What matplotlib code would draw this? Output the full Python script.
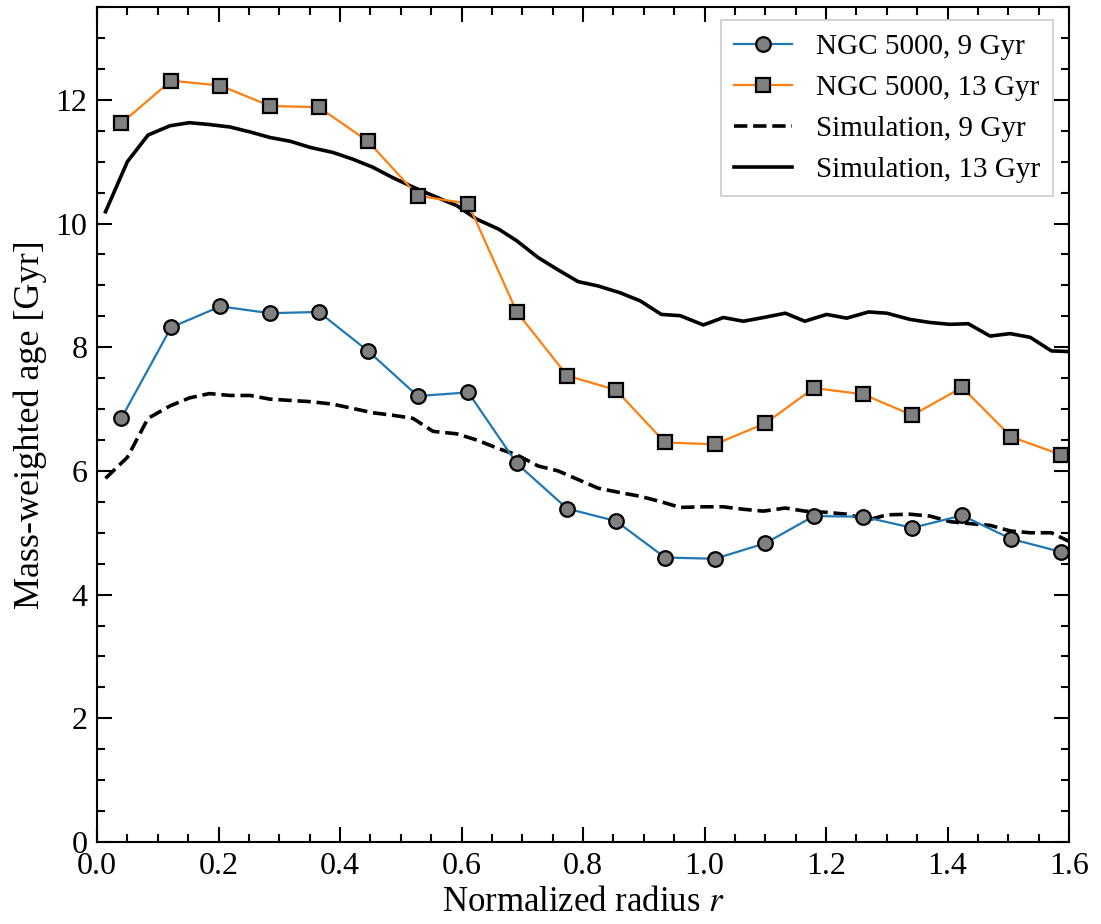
import matplotlib
matplotlib.use("Agg")
import matplotlib.pyplot as plt
from matplotlib.ticker import MultipleLocator

plt.rcParams['font.family'] = ['Liberation Serif', 'DejaVu Serif']
plt.rcParams['mathtext.fontset'] = 'stix'

# NGC 5000 radial bins
ngc_r = [0.040, 0.122, 0.203, 0.285, 0.365, 0.446, 0.528, 0.611, 0.691, 0.774,
         0.854, 0.935, 1.017, 1.100, 1.180, 1.261, 1.342, 1.424, 1.505, 1.587]
ngc_9 = [6.85, 8.32, 8.66, 8.55, 8.57, 7.94, 7.21, 7.27, 6.12, 5.39,
         5.19, 4.60, 4.58, 4.83, 5.27, 5.26, 5.08, 5.28, 4.90, 4.69]
ngc_13 = [11.62, 12.31, 12.23, 11.90, 11.88, 11.33, 10.45, 10.32, 8.57, 7.54,
          7.31, 6.46, 6.43, 6.77, 7.34, 7.24, 6.90, 7.35, 6.55, 6.26]

# Simulation profiles
sim_r = [0.014, 0.050, 0.084, 0.120, 0.152, 0.185, 0.219, 0.252, 0.285, 0.318,
         0.351, 0.388, 0.421, 0.454, 0.487, 0.520, 0.553, 0.592, 0.625, 0.661,
         0.691, 0.726, 0.759, 0.792, 0.825, 0.861, 0.894, 0.929, 0.960, 0.998,
         1.031, 1.064, 1.097, 1.133, 1.165, 1.201, 1.234, 1.270, 1.300, 1.338,
         1.371, 1.404, 1.434, 1.470, 1.503, 1.536, 1.571, 1.600]
sim_13 = [10.19, 11.00, 11.43, 11.58, 11.63, 11.60, 11.56, 11.48, 11.39, 11.33,
          11.23, 11.15, 11.04, 10.91, 10.74, 10.59, 10.45, 10.29, 10.07, 9.91,
          9.72, 9.45, 9.25, 9.06, 8.99, 8.88, 8.75, 8.53, 8.51, 8.36,
          8.48, 8.42, 8.48, 8.55, 8.42, 8.53, 8.47, 8.57, 8.55, 8.45,
          8.40, 8.37, 8.38, 8.18, 8.22, 8.16, 7.94, 7.93]
sim_9 = [5.88, 6.22, 6.85, 7.05, 7.18, 7.25, 7.22, 7.22, 7.16, 7.14,
         7.12, 7.08, 7.01, 6.94, 6.90, 6.85, 6.64, 6.60, 6.50, 6.36,
         6.26, 6.08, 6.00, 5.86, 5.72, 5.65, 5.59, 5.50, 5.41, 5.42,
         5.42, 5.38, 5.35, 5.40, 5.35, 5.33, 5.30, 5.21, 5.29, 5.30,
         5.27, 5.18, 5.15, 5.12, 5.03, 5.00, 5.00, 4.86]

labels = ["NGC 5000, 9 Gyr", "NGC 5000, 13 Gyr", "Simulation, 9 Gyr", "Simulation, 13 Gyr"]

fig = plt.figure(figsize=(11.01, 9.24), dpi=100)
ax = fig.add_axes([0.0881, 0.0887, 0.8829, 0.9037])

ax.plot(ngc_r, ngc_9, '-o', color='#1f77b4', lw=1.6, ms=10.5, mfc='#808080',
        mec='black', mew=1.6, label=labels[0], zorder=3)
ax.plot(ngc_r, ngc_13, '-s', color='#ff7f0e', lw=1.6, ms=10, mfc='#808080',
        mec='black', mew=1.6, label=labels[1], zorder=3)
ax.plot(sim_r, sim_9, '--', color='black', lw=2.6, label=labels[2], zorder=2)
ax.plot(sim_r, sim_13, '-', color='black', lw=2.6, label=labels[3], zorder=2)

ax.set_xlim(0, 1.6)
ax.set_ylim(0, 13.5)
ax.xaxis.set_major_locator(MultipleLocator(0.2))
ax.xaxis.set_minor_locator(MultipleLocator(0.05))
ax.yaxis.set_major_locator(MultipleLocator(2))
ax.yaxis.set_minor_locator(MultipleLocator(0.5))
ax.xaxis.set_major_formatter(matplotlib.ticker.FormatStrFormatter('%.1f'))

ax.tick_params(which='both', direction='in', top=True, right=True, width=1.5,
               labelsize=23, pad=7)
ax.tick_params(which='major', length=11)
ax.tick_params(which='minor', length=6)
for s in ax.spines.values():
    s.set_linewidth(1.5)

ax.set_xlabel(r"Normalized radius $r$", fontsize=25, labelpad=4)
ax.set_ylabel("Mass-weighted age [Gyr]", fontsize=26, labelpad=6)

leg = ax.legend(loc='upper right', fontsize=21, fancybox=False, framealpha=1,
                edgecolor='#cccccc', borderpad=0.45, labelspacing=0.5,
                handlelength=2.0, handletextpad=0.8, borderaxespad=0,
                bbox_to_anchor=(0.9835, 0.984))
leg.get_frame().set_linewidth(1.2)

fig.savefig("out.png", dpi=100)
